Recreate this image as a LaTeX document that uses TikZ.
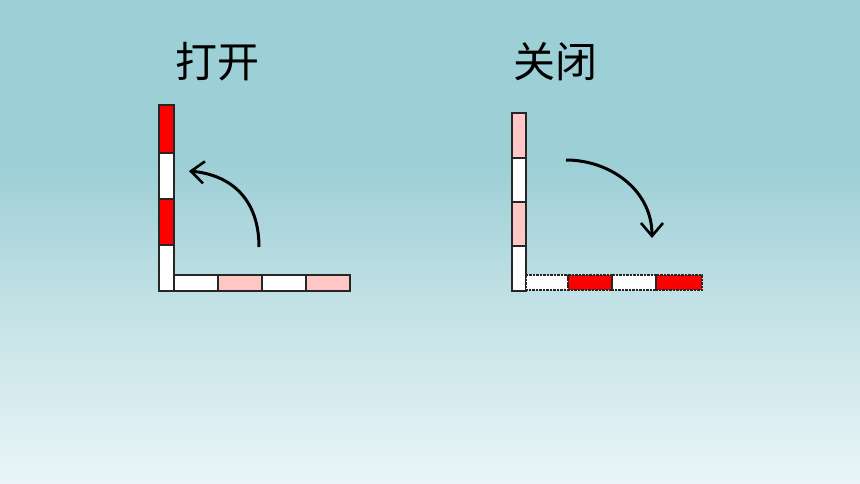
\documentclass[tikz,border=0pt]{standalone}
\usepackage{fontspec}
\newfontfamily\cjk{Noto Sans CJK SC}
\usetikzlibrary{arrows.meta}
\definecolor{bgtop}{HTML}{9DCFD6}
\definecolor{bgmid}{HTML}{C6E3E7}
\definecolor{bgbot}{HTML}{EAF5F7}
\definecolor{pinkseg}{HTML}{FFC6C6}
\definecolor{redseg}{HTML}{FF0000}
\tikzset{
  seg/.style={draw=black!85, line width=1.4pt},
  dseg/.style={draw=black!85, line width=1.2pt, dash pattern=on 2.5pt off 1pt},
  turn/.style={line width=3pt, -{Straight Barb[length=13pt,width=22pt,line width=2.6pt]}},
  title/.style={font=\cjk\fontsize{42}{50}\selectfont, inner sep=0pt, anchor=west}
}
\begin{document}
\begin{tikzpicture}[x=1pt,y=-1pt]
\useasboundingbox (0,0) rectangle (860,484);
% background
\fill[bgtop] (0,0) rectangle (860,165);
\shade[top color=bgtop, bottom color=bgmid] (0,164) rectangle (860,320);
\shade[top color=bgmid, bottom color=bgbot] (0,319) rectangle (860,484);

% titles
\node[title] (t1) at (175,62) {打开};
\node[title] (t2) at (513,62) {关闭};

% ---- left: open ----
\fill[redseg]  (159,105) rectangle (174,153);
\fill[white]   (159,153) rectangle (174,199);
\fill[redseg]  (159,199) rectangle (174,245);
\fill[white]   (159,245) rectangle (174,291);
\draw[seg] (159,105) rectangle (174,153);
\draw[seg] (159,153) rectangle (174,199);
\draw[seg] (159,199) rectangle (174,245);
\draw[seg] (159,245) rectangle (174,291);

\fill[white]   (174,275) rectangle (218,291);
\fill[pinkseg] (218,275) rectangle (262,291);
\fill[white]   (262,275) rectangle (306,291);
\fill[pinkseg] (306,275) rectangle (350,291);
\draw[seg] (174,275) rectangle (218,291);
\draw[seg] (218,275) rectangle (262,291);
\draw[seg] (262,275) rectangle (306,291);
\draw[seg] (306,275) rectangle (350,291);

\coordinate (a1s) at (259,247);
\coordinate (a1e) at (189,171);
\draw[turn] (a1s) .. controls (259,200) and (232,175) .. (a1e);

% ---- right: close ----
\fill[pinkseg] (512,113) rectangle (526,158);
\fill[white]   (512,158) rectangle (526,202);
\fill[pinkseg] (512,202) rectangle (526,246);
\fill[white]   (512,246) rectangle (526,291);
\draw[seg] (512,113) rectangle (526,158);
\draw[seg] (512,158) rectangle (526,202);
\draw[seg] (512,202) rectangle (526,246);
\draw[seg] (512,246) rectangle (526,291);

\fill[white]  (526,275) rectangle (568,290);
\fill[redseg] (568,275) rectangle (612,290);
\fill[white]  (612,275) rectangle (656,290);
\fill[redseg] (656,275) rectangle (702,290);
\draw[dseg] (526,275) rectangle (568,290);
\draw[dseg] (568,275) rectangle (612,290);
\draw[dseg] (612,275) rectangle (656,290);
\draw[dseg] (656,275) rectangle (702,290);

\coordinate (a2s) at (566,160);
\coordinate (a2e) at (652,238);
\draw[turn] (a2s) .. controls (610,160) and (652,190) .. (a2e);
\end{tikzpicture}
\end{document}
